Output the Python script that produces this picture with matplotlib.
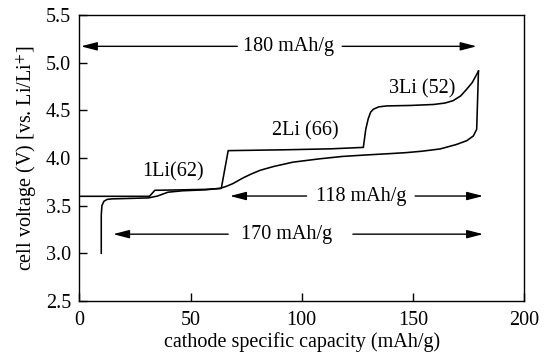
import matplotlib
matplotlib.use("Agg")
import matplotlib.pyplot as plt

# charge curve (upper) and discharge curve (lower)
charge_cap = [0, 31.5, 33.9, 46.4, 56.7, 63.8, 66.9, 92.6, 113.1, 127.7, 128.8, 129.9, 131.0,
              132.2, 134.6, 138.2, 149.0, 159.2, 164.4, 168.1, 171.5, 174.2, 176.7, 179.5]
charge_v = [3.597, 3.597, 3.66, 3.665, 3.67, 3.68, 4.076, 4.085, 4.095, 4.11, 4.30, 4.41, 4.48,
            4.51, 4.535, 4.545, 4.55, 4.56, 4.575, 4.60, 4.65, 4.72, 4.79, 4.91]

disch_cap = [9.8, 9.8, 10.1, 11.0, 12.5, 14.6, 31.0, 35.1, 39.8, 46.4, 56.7, 63.2, 65.9, 69.0,
             73.6, 77.2, 81.3, 87.4, 96.0, 108.0, 118.2, 128.5, 139.8, 146.9, 154.1, 162.3,
             169.5, 174.2, 177.2, 178.7, 179.5]
disch_v = [3.0, 3.40, 3.50, 3.545, 3.565, 3.57, 3.58, 3.60, 3.64, 3.655, 3.665, 3.68, 3.70,
           3.73, 3.79, 3.83, 3.87, 3.91, 3.955, 3.99, 4.015, 4.03, 4.045, 4.055, 4.07, 4.094,
           4.14, 4.18, 4.23, 4.30, 4.91]

plt.rcParams['font.family'] = ['Liberation Serif', 'DejaVu Serif']
plt.rcParams['mathtext.fontset'] = 'stix'
plt.rcParams['font.size'] = 14

fig = plt.figure(figsize=(5.47, 3.54), dpi=100)
ax = fig.add_axes([0.1453, 0.150, 0.8127, 0.808])

ax.plot(charge_cap, charge_v, color='black', lw=1.15)
ax.plot(disch_cap, disch_v, color='black', lw=1.15)

ax.set_xlim(0, 200)
ax.set_ylim(2.5, 5.5)
ax.set_xticks([0, 50, 100, 150, 200])
ax.set_yticks([2.5, 3.0, 3.5, 4.0, 4.5, 5.0, 5.5])
ax.set_yticklabels(['2.5', '3.0', '3.5', '4.0', '4.5', '5.0', '5.5'])
ax.tick_params(direction='in', length=6, width=1, top=False, right=False, labelsize=14.5)
ax.tick_params(axis='x', pad=7)
ax.tick_params(axis='y', pad=6)
for s in ax.spines.values():
    s.set_linewidth(1)

ax.set_xlabel('cathode specific capacity (mAh/g)', fontsize=14.5, labelpad=2)
ax.set_ylabel('cell voltage (V) [vs. Li/Li$^{+}$]', fontsize=14.5, labelpad=5)

arrow = dict(arrowstyle='-|>,head_length=0.7,head_width=0.18', color='black', lw=1,
             shrinkA=0, shrinkB=0)

# (y, left tip, left gap, right gap, right tip, text, text x)
arrows = [
    (5.17, 0.6, 71, 118.2, 178.7, '180 mAh/g', 94.1),
    (3.60, 67.7, 102.2, 151, 181.6, '118 mAh/g', 126.9),
    (3.20, 15.1, 66.9, 123.0, 181.6, '170 mAh/g', 93.1),
]
for y, x0, g0, g1, x1, txt, tx in arrows:
    ax.annotate('', xy=(x0, y), xytext=(g0, y), arrowprops=arrow)
    ax.annotate('', xy=(x1, y), xytext=(g1, y), arrowprops=arrow)
    ax.text(tx, y, txt, ha='center', va='center', fontsize=14.5)

ax.text(42.1, 3.85, '1Li(62)', ha='center', va='center', fontsize=14.5)
ax.text(101.5, 4.28, '2Li (66)', ha='center', va='center', fontsize=14.5)
ax.text(154.1, 4.72, '3Li (52)', ha='center', va='center', fontsize=14.5)

fig.savefig('out.png', dpi=100)
